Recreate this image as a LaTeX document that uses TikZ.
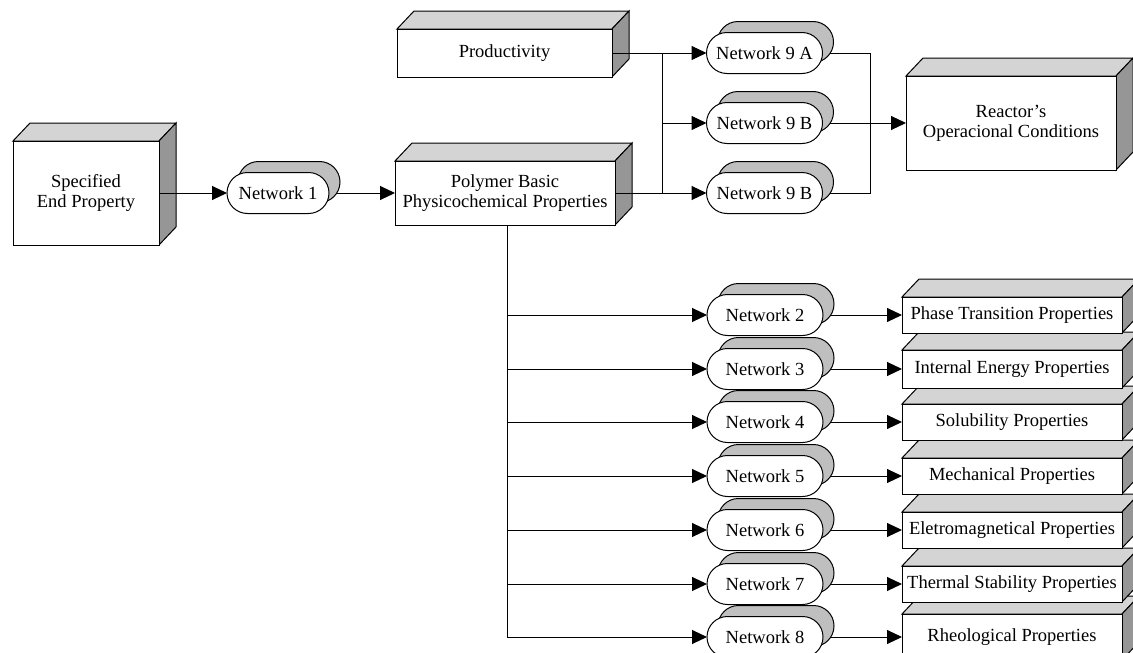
\documentclass[tikz,border=0pt]{standalone}
\usepackage{fontspec}
\setmainfont{Liberation Serif}
\usetikzlibrary{arrows.meta,shapes.misc,shadows,backgrounds,calc}
\definecolor{topgray}{HTML}{D4D4D4}
\definecolor{sidegray}{HTML}{969696}
\definecolor{shgray}{HTML}{BFBFBF}
\tikzset{
  boxline/.style={draw=black, line width=1pt},
  frontbox/.style={boxline, fill=white, inner sep=0pt, outer sep=0pt, align=center, font=\fontsize{18.5}{20}\selectfont},
  pill/.style={rounded rectangle, draw=black, fill=white, line width=1pt, minimum width=116pt, minimum height=41pt, inner sep=0pt, outer sep=0pt, font=\fontsize{18.5}{20}\selectfont,
    copy shadow={shadow xshift=11pt, shadow yshift=11pt, fill=shgray, draw=black}},
  conn/.style={draw=black, line width=1pt},
  arr/.style={conn, -{Triangle[length=15pt,width=14pt]}}
}
% name, cx, cy, w, h, text
\newcommand\threedbox[6]{%
  \draw[boxline, fill=topgray] ({#2-#4/2},{#3-#5/2}) -- ++(17,-18) -- ({#2+#4/2+17},{#3-#5/2-18}) -- ({#2+#4/2},{#3-#5/2}) -- cycle;
  \draw[boxline, fill=sidegray] ({#2+#4/2},{#3-#5/2}) -- ++(17,-18) -- ({#2+#4/2+17},{#3+#5/2-18}) -- ({#2+#4/2},{#3+#5/2}) -- cycle;
  \node[frontbox, minimum width=#4pt, minimum height=#5pt] (#1) at (#2,#3) {#6};
}
\begin{document}
\begin{tikzpicture}[x=1pt, y=-1pt]
\useasboundingbox (0,0) rectangle (1133,653);
\clip (0,0) rectangle (1133,653);

% main boxes
\threedbox{spec}{86}{193}{146}{104}{Specified\\End Property}
\threedbox{prod}{504.5}{53}{215}{48}{Productivity}
\threedbox{poly}{505}{193}{220}{64}{Polymer Basic\\Physicochemical Properties}
\threedbox{reactor}{1011}{123}{210}{94}{Reactor’s\\Operacional Conditions}

% property boxes (bottom first)
\threedbox{p8}{1012}{637}{220}{46}{Rheological Properties}
\threedbox{p7}{1012}{584}{220}{36}{Thermal Stability Properties}
\threedbox{p6}{1012}{530}{220}{36}{Eletromagnetical Properties}
\threedbox{p5}{1012}{476}{220}{36}{Mechanical Properties}
\threedbox{p4}{1012}{422}{220}{36}{Solubility Properties}
\threedbox{p3}{1012}{369}{220}{38}{Internal Energy Properties}
\threedbox{p2}{1012}{315}{220}{36}{Phase Transition Properties}

% pills
\node[pill, minimum width=102pt] (net1) at (278,193) {Network 1};
\node[pill] (n9a) at (764.5,53) {Network 9 A};
\node[pill] (n9b) at (764.5,123) {Network 9 B};
\node[pill] (n9c) at (764.5,193) {Network 9 B};
\node[pill] (n2) at (765,315) {Network 2};
\node[pill] (n3) at (765,369) {Network 3};
\node[pill] (n4) at (765,422) {Network 4};
\node[pill] (n5) at (765,476) {Network 5};
\node[pill] (n6) at (765,530) {Network 6};
\node[pill] (n7) at (765,584) {Network 7};
\node[pill] (n8) at (765,637) {Network 8};

\coordinate (jl) at (662,0);
\coordinate (jr) at (870,0);
\coordinate (jv) at (507,0);

% connectors from boxes (on top)
\draw[arr] (spec.east) -- (net1.west);
\draw[conn] (prod.east) -- (prod.east -| jl) -- (poly.east -| jl);
\draw[arr] (prod.east) -- (n9a.west);
\draw[arr] (jl |- n9b) -- (n9b.west);
\draw[arr] (poly.east) -- (n9c.west);
\draw[conn] (jv |- poly.south) -- (jv |- n8);
\foreach \n in {n2,n3,n4,n5,n6,n7,n8}
  \draw[arr] (jv |- \n) -- (\n.west);

% connectors from pills (behind shadows)
\begin{scope}[on background layer]
\fill[white] (0,0) rectangle (1133,653);
\draw[arr] (net1.east) -- (poly.west);
\draw[conn] (n9a.east) -- (n9a.east -| jr) -- (n9c.east -| jr) -- (n9c.east);
\draw[arr] (n9b.east) -- (reactor.west);
\foreach \i in {2,...,8}
  \draw[arr] (n\i.east) -- (p\i.west);
\end{scope}
\end{tikzpicture}
\end{document}
